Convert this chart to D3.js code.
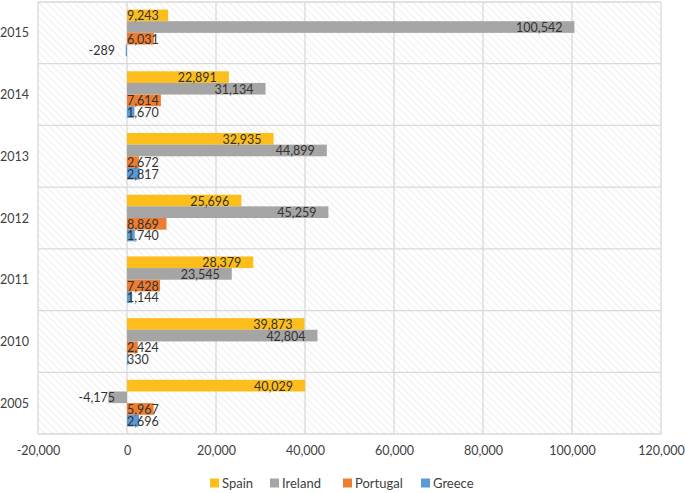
<!DOCTYPE html>
<html><head><meta charset="utf-8">
<script src="https://cdn.jsdelivr.net/npm/d3@7"></script>
<style>body{margin:0;background:#fff;} text{font-family:Lato,sans-serif;}</style>
</head><body>
<svg id="c" width="685" height="493"></svg>
<script>
const categories = ["2015","2014","2013","2012","2011","2010","2005"];
const seriesNames = ["Spain","Ireland","Portugal","Greece"];
const spain = [9243, 22891, 32935, 25696, 28379, 39873, 40029];
const ireland = [100542, 31134, 44899, 45259, 23545, 42804, -4175];
const portugal = [6031, 7614, 2672, 8869, 7428, 2424, 5967];
const greece = [-289, 1670, 2817, 1740, 1144, 330, 2696];
const xTicks = [-20000,0,20000,40000,60000,80000,100000,120000];
const colors = ["#FDBE1B","#A5A5A5","#ED7D31","#5B9BD5"];
const seriesValues = [spain, ireland, portugal, greece];

const FS = 12.5;
const svg = d3.select("#c");
const L = 38, R = 661, T = 2, B = 434;
const x = d3.scaleLinear().domain([-20000,120000]).range([L,R]);
const y = d3.scaleBand().domain(categories).range([T,B]);
const inner = d3.scaleBand().domain(seriesNames).range([0,y.bandwidth()]).paddingOuter(0.65).paddingInner(0);
const fmt = v => d3.format(",")(v).replace("\u2212","-");

const defs = svg.append("defs");
const pat = defs.append("pattern").attr("id","hatch").attr("patternUnits","userSpaceOnUse")
  .attr("width",5).attr("height",5).attr("patternTransform","rotate(-45)");
pat.append("rect").attr("width",5).attr("height",5).attr("fill","#fff");
pat.append("line").attr("x1",0).attr("y1",0).attr("x2",0).attr("y2",5).attr("stroke","#dedede").attr("stroke-width",1);

svg.append("rect").attr("x",L).attr("y",T).attr("width",R-L).attr("height",B-T).attr("fill","url(#hatch)");

// gridlines
svg.append("g").selectAll("line").data(xTicks).join("line")
  .attr("x1",d=>x(d)).attr("x2",d=>x(d)).attr("y1",T).attr("y2",B)
  .attr("stroke","#d9d9d9").attr("stroke-width",1.3);
const bounds = categories.map(c=>y(c)).concat([B]);
svg.append("g").selectAll("line").data(bounds).join("line")
  .attr("x1",L).attr("x2",R).attr("y1",d=>d).attr("y2",d=>d)
  .attr("stroke","#d9d9d9").attr("stroke-width",1.3);

// bars
const rows = [];
categories.forEach((c,i)=>seriesNames.forEach((s,j)=>rows.push({c,s,v:seriesValues[j][i],color:colors[j]})));
svg.append("g").selectAll("rect").data(rows).join("rect")
  .attr("x",d=>Math.min(x(0),x(d.v))).attr("width",d=>Math.abs(x(d.v)-x(0)))
  .attr("y",d=>y(d.c)+inner(d.s)).attr("height",inner.bandwidth())
  .attr("fill",d=>d.color);

const lbl = svg.append("g").selectAll("text").data(rows).join("text")
  .attr("y",d=>y(d.c)+inner(d.s)+inner.bandwidth()/2+0.5)
  .attr("dominant-baseline","central")
  .attr("font-size",FS).attr("fill","#333")
  .text(d=>fmt(d.v));
lbl.each(function(d){
  const t = d3.select(this);
  const w = this.getComputedTextLength();
  if (d.v >= 0) {
    const end = x(d.v) - 12;
    if (end - w < x(0)) t.attr("x",x(0)).attr("text-anchor","start");
    else t.attr("x",end).attr("text-anchor","end");
  } else {
    t.attr("x",x(0)-12).attr("text-anchor","end");
  }
});

// category labels
svg.append("g").selectAll("text").data(categories).join("text")
  .attr("x",29).attr("y",d=>y(d)+y.bandwidth()/2).attr("dominant-baseline","central")
  .attr("text-anchor","end").attr("font-size",FS).attr("fill","#404040").text(d=>d);

// x axis labels
const xAxis = d3.axisBottom(x).tickValues(xTicks).tickFormat(fmt).tickSize(0).tickPadding(0);
const ax = svg.append("g").attr("transform",`translate(0,${B})`).call(xAxis);
ax.select(".domain").remove();
ax.selectAll("text").attr("font-size",FS).attr("fill","#404040")
  .attr("font-family","Lato, sans-serif").attr("dy",null).attr("y",16).attr("dominant-baseline","central");

// legend
const legX = [210, 270, 343, 421];
const leg = svg.append("g").selectAll("g").data(seriesNames).join("g")
  .attr("transform",(d,i)=>`translate(${legX[i]},483)`);
leg.append("rect").attr("x",0).attr("y",-4.5).attr("width",9).attr("height",9).attr("fill",(d,i)=>colors[i]);
leg.append("text").attr("x",12).attr("y",0).attr("dominant-baseline","central")
  .attr("font-size",13).attr("fill","#404040").text(d=>d);
</script>
</body></html>
